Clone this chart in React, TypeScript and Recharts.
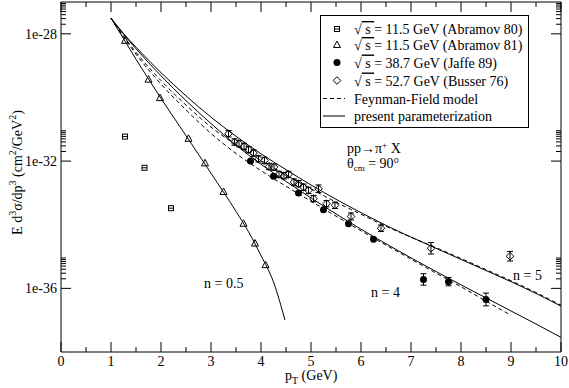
import React from "react";
import { ComposedChart, Line, Scatter, XAxis, YAxis, ErrorBar } from "recharts";

const FONT = "Liberation Serif";

// pT grid (GeV) the model curves were read on
const curveX = [1, 1.25, 1.5, 2, 2.5, 3, 3.5, 4, 4.5, 5, 5.5, 6, 6.5, 7, 7.5, 8, 8.5, 9, 9.5, 10];
// log10(E d3sigma/dp3)
const param52 = [-27.51, -27.99, -28.42, -29.22, -29.95, -30.62, -31.22, -31.77, -32.27, -32.75, -33.2, -33.62, -34.02, -34.39, -34.74, -35.09, -35.44, -35.79, -36.16, -36.56];
const param39 = [-27.51, -28.01, -28.47, -29.32, -30.1, -30.82, -31.5, -32.1, -32.64, -33.16, -33.66, -34.14, -34.6, -35.04, -35.47, -35.89, -36.3, -36.71, -37.12, -37.54];
const ff52 = [-27.51, -28.07, -28.58, -29.47, -30.24, -30.93, -31.49, -31.98, -32.44, -32.87, -33.29, -33.67, -34.05, -34.39, -34.72, -35.06, -35.41, -35.76, -36.13, -36.53];
const ff39X = [1, 1.25, 1.5, 2, 2.5, 3, 3.5, 4, 4.5, 5, 5.5, 6, 6.5, 7, 7.5, 8, 8.5, 9];
const ff39 = [-27.51, -28.1, -28.64, -29.58, -30.39, -31.13, -31.76, -32.3, -32.79, -33.26, -33.73, -34.19, -34.64, -35.08, -35.52, -35.95, -36.4, -36.85];
const param11X = [1, 1.25, 1.5, 1.75, 2, 2.5, 3, 3.5, 3.75, 4, 4.25, 4.48];
const param11 = [-27.51, -28.15, -28.8, -29.42, -30.03, -31.2, -32.38, -33.58, -34.22, -34.97, -35.8, -37.0];

// measurements: pT, log10 value, error bar half height in decades
const abramov80X = [1.28, 1.67, 2.2];
const abramov80Y = [-31.23, -32.21, -33.48];
const abramov81X = [1.28, 1.75, 1.98, 2.55, 2.88, 3.25, 3.65, 3.88, 4.09];
const abramov81Y = [-28.22, -29.44, -30.02, -31.3, -32.07, -32.97, -33.97, -34.59, -35.27];
const jaffeX = [3.79, 4.25, 4.75, 5.25, 5.75, 6.25, 7.25, 7.75, 8.5];
const jaffeY = [-32.0, -32.48, -33.0, -33.53, -33.97, -34.46, -35.72, -35.79, -36.35];
const jaffeErr = [0, 0, 0, 0, 0, 0, 0.18, 0.13, 0.2];
const busserX = [3.35, 3.47, 3.56, 3.66, 3.75, 3.85, 3.95, 4.07, 4.16, 4.26, 4.36, 4.46, 4.55, 4.66, 4.75, 4.85, 4.95, 5.05, 5.15, 5.31, 5.48, 5.8, 6.4, 7.4, 8.98];
const busserY = [-31.14, -31.4, -31.45, -31.54, -31.64, -31.75, -31.93, -31.98, -32.17, -32.19, -32.42, -32.46, -32.42, -32.66, -32.71, -32.82, -32.92, -33.18, -32.87, -33.34, -33.39, -33.74, -34.11, -34.74, -34.99];
const busserErr = [0.1, 0.1, 0.1, 0.1, 0.1, 0.1, 0.1, 0.1, 0.1, 0.1, 0.1, 0.1, 0.1, 0.1, 0.1, 0.1, 0.1, 0.1, 0.12, 0.1, 0.1, 0.11, 0.1, 0.18, 0.15];

const xTicks = [0, 0.5, 1, 1.5, 2, 2.5, 3, 3.5, 4, 4.5, 5, 5.5, 6, 6.5, 7, 7.5, 8, 8.5, 9, 9.5, 10];
const yMajor = [1e-36, 1e-32, 1e-28];
const yMajorLabels = ["1e-36", "1e-32", "1e-28"];
const yTicks = [
  1e-36, 2e-36, 3e-36, 4e-36, 5e-36, 6e-36, 7e-36, 8e-36, 9e-36,
  1e-32, 2e-32, 3e-32, 4e-32, 5e-32, 6e-32, 7e-32, 8e-32, 9e-32,
  1e-28, 2e-28, 3e-28, 4e-28, 5e-28, 6e-28, 7e-28, 8e-28, 9e-28,
];

const pts = (xs: number[], logs: number[], errs?: number[]) =>
  xs.map((x, i) => {
    const y = Math.pow(10, logs[i]);
    const d = errs ? errs[i] : 0;
    return { x, y, err: [y - Math.pow(10, logs[i] - d), Math.pow(10, logs[i] + d) - y] };
  });

const Square = ({ cx, cy }: any) => (
  <g>
    <rect x={cx - 2.5} y={cy - 2.5} width={5} height={5} fill="none" stroke="#000" />
    <line x1={cx - 2.5} x2={cx + 2.5} y1={cy} y2={cy} stroke="#000" />
  </g>
);
const Triangle = ({ cx, cy }: any) => (
  <polygon points={`${cx},${cy - 4} ${cx - 3.5},${cy + 2.5} ${cx + 3.5},${cy + 2.5}`} fill="none" stroke="#000" />
);
const Dot = ({ cx, cy }: any) => <circle cx={cx} cy={cy} r={3.5} fill="#000" />;
const Diamond = ({ cx, cy }: any) => (
  <polygon points={`${cx},${cy - 3.8} ${cx + 3.8},${cy} ${cx},${cy + 3.8} ${cx - 3.8},${cy}`} fill="none" stroke="#000" />
);

const MAJ = 10;
const MIN = 5;

const BottomTick = (p: any) => {
  const { x, y, payload } = p;
  const major = Number.isInteger(payload.value);
  const base = y - 4;
  return (
    <g>
      <line x1={x} x2={x} y1={base} y2={base - (major ? MAJ : MIN)} stroke="#000" />
      {major && (
        <text x={x} y={y} dy="0.72em" textAnchor="middle" fontFamily={FONT} fontSize={14} fill="#000">
          {payload.value}
        </text>
      )}
    </g>
  );
};
const TopTick = (p: any) => {
  const { x, y, payload } = p;
  const major = Number.isInteger(payload.value);
  return <line x1={x} x2={x} y1={y} y2={y + (major ? MAJ : MIN)} stroke="#000" />;
};
const LeftTick = (p: any) => {
  const { x, y, payload } = p;
  const i = yMajor.indexOf(payload.value);
  const base = x + 4;
  return (
    <g>
      <line x1={base} x2={base + (i >= 0 ? MAJ : MIN)} y1={y} y2={y} stroke="#000" />
      {i >= 0 && (
        <text x={x} y={y} dy="0.35em" textAnchor="end" fontFamily={FONT} fontSize={14} fill="#000">
          {yMajorLabels[i]}
        </text>
      )}
    </g>
  );
};
const RightTick = (p: any) => {
  const { x, y, payload } = p;
  const major = yMajor.indexOf(payload.value) >= 0;
  return <line x1={x} x2={x - (major ? MAJ : MIN)} y1={y} y2={y} stroke="#000" />;
};

const legendRows = [
  { y: 29, shape: "square", text: "11.5 GeV (Abramov 80)" },
  { y: 45, shape: "triangle", text: "11.5 GeV (Abramov 81)" },
  { y: 62.5, shape: "dot", text: "38.7 GeV (Jaffe 89)" },
  { y: 80.5, shape: "diamond", text: "52.7 GeV (Busser 76)" },
];

function Overlay() {
  const t = { fontFamily: FONT, fontSize: 14, fill: "#000" };
  return (
    <svg width={569} height={388} style={{ position: "absolute", left: 0, top: 0, pointerEvents: "none" }}>
      <rect x={320.5} y={15.5} width={208} height={112} fill="#fff" stroke="#000" />
      {legendRows.map((r) => (
        <g key={r.text}>
          {r.shape === "square" && <Square cx={337} cy={r.y} />}
          {r.shape === "triangle" && <Triangle cx={337} cy={r.y} />}
          {r.shape === "dot" && <Dot cx={337} cy={r.y} />}
          {r.shape === "diamond" && <Diamond cx={337} cy={r.y} />}
          <text x={354} y={r.y + 5} {...t}>
            √<tspan style={{ textDecoration: "overline" }}> s </tspan>= {r.text}
          </text>
        </g>
      ))}
      <line x1={323} x2={345} y1={98.5} y2={98.5} stroke="#000" strokeDasharray="4 3" />
      <text x={354} y={103.5} {...t}>Feynman-Field model</text>
      <line x1={323} x2={345} y1={116} y2={116} stroke="#000" />
      <text x={354} y={121} {...t}>present parameterization</text>

      <text x={347} y={153} {...t}>
        pp→π<tspan dy={-5} fontSize={9}>+</tspan>
        <tspan dy={5}> X</tspan>
      </text>
      <text x={347} y={167.5} {...t}>
        θ<tspan dy={3} fontSize={9}>cm</tspan>
        <tspan dy={-3}> = 90°</tspan>
      </text>

      <text x={204} y={288} {...t}>n = 0.5</text>
      <text x={371} y={297} {...t}>n = 4</text>
      <text x={513} y={280} {...t}>n = 5</text>

      <text x={285} y={380} {...t}>
        p<tspan dy={4} fontSize={10}>T</tspan>
        <tspan dy={-4}> (GeV)</tspan>
      </text>
      <text transform="translate(21.5,172.5) rotate(-90)" textAnchor="middle" {...t}>
        E d<tspan dy={-6} fontSize={10}>3</tspan>
        <tspan dy={6}>σ/dp</tspan>
        <tspan dy={-6} fontSize={10}>3</tspan>
        <tspan dy={6}> (cm</tspan>
        <tspan dy={-6} fontSize={10}>2</tspan>
        <tspan dy={6}>/GeV</tspan>
        <tspan dy={-6} fontSize={10}>2</tspan>
        <tspan dy={6}>)</tspan>
      </text>
    </svg>
  );
}

export default function App() {
  const line = { xAxisId: "b", yAxisId: "l", dataKey: "y", type: "monotone" as const, stroke: "#000", strokeWidth: 1, dot: false, isAnimationActive: false };
  return (
    <div style={{ position: "absolute", left: 0, top: 0, width: 569, height: 388, background: "#fff" }}>
      <ComposedChart width={569} height={388} margin={{ top: 0, right: 0, bottom: 0, left: 0 }}>
        <XAxis xAxisId="b" dataKey="x" type="number" domain={[0, 10]} ticks={xTicks} interval={0} allowDataOverflow
          height={36} tickSize={0} tickMargin={4} tickLine={false} axisLine={{ stroke: "#000" }} tick={BottomTick} />
        <XAxis xAxisId="t" orientation="top" dataKey="x" type="number" domain={[0, 10]} ticks={xTicks} interval={0} allowDataOverflow
          height={2} tickSize={0} tickMargin={0} tickLine={false} axisLine={{ stroke: "#000" }} tick={TopTick} />
        <YAxis yAxisId="l" dataKey="y" type="number" scale="log" domain={[1e-38, 1e-27]} ticks={yTicks} interval={0} allowDataOverflow
          width={61} tickSize={0} tickMargin={4} tickLine={false} axisLine={{ stroke: "#000" }} tick={LeftTick} />
        <YAxis yAxisId="r" orientation="right" dataKey="y" type="number" scale="log" domain={[1e-38, 1e-27]} ticks={yTicks} interval={0} allowDataOverflow
          width={8} tickSize={0} tickMargin={0} tickLine={false} axisLine={{ stroke: "#000" }} tick={RightTick} />

        <Line {...line} data={pts(curveX, ff52)} strokeDasharray="4 3" />
        <Line {...line} data={pts(ff39X, ff39)} strokeDasharray="4 3" />
        <Line {...line} data={pts(curveX, param52)} />
        <Line {...line} data={pts(curveX, param39)} />
        <Line {...line} data={pts(param11X, param11)} />

        <Scatter xAxisId="b" yAxisId="l" data={pts(abramov80X, abramov80Y)} shape={Square} isAnimationActive={false} />
        <Scatter xAxisId="b" yAxisId="l" data={pts(abramov81X, abramov81Y)} shape={Triangle} isAnimationActive={false} />
        <Scatter xAxisId="b" yAxisId="l" data={pts(busserX, busserY, busserErr)} shape={Diamond} isAnimationActive={false}>
          <ErrorBar dataKey="err" direction="y" width={3} stroke="#000" strokeWidth={1} />
        </Scatter>
        <Scatter xAxisId="b" yAxisId="l" data={pts(jaffeX, jaffeY, jaffeErr)} shape={Dot} isAnimationActive={false}>
          <ErrorBar dataKey="err" direction="y" width={3} stroke="#000" strokeWidth={1} />
        </Scatter>
      </ComposedChart>
      <Overlay />
    </div>
  );
}
